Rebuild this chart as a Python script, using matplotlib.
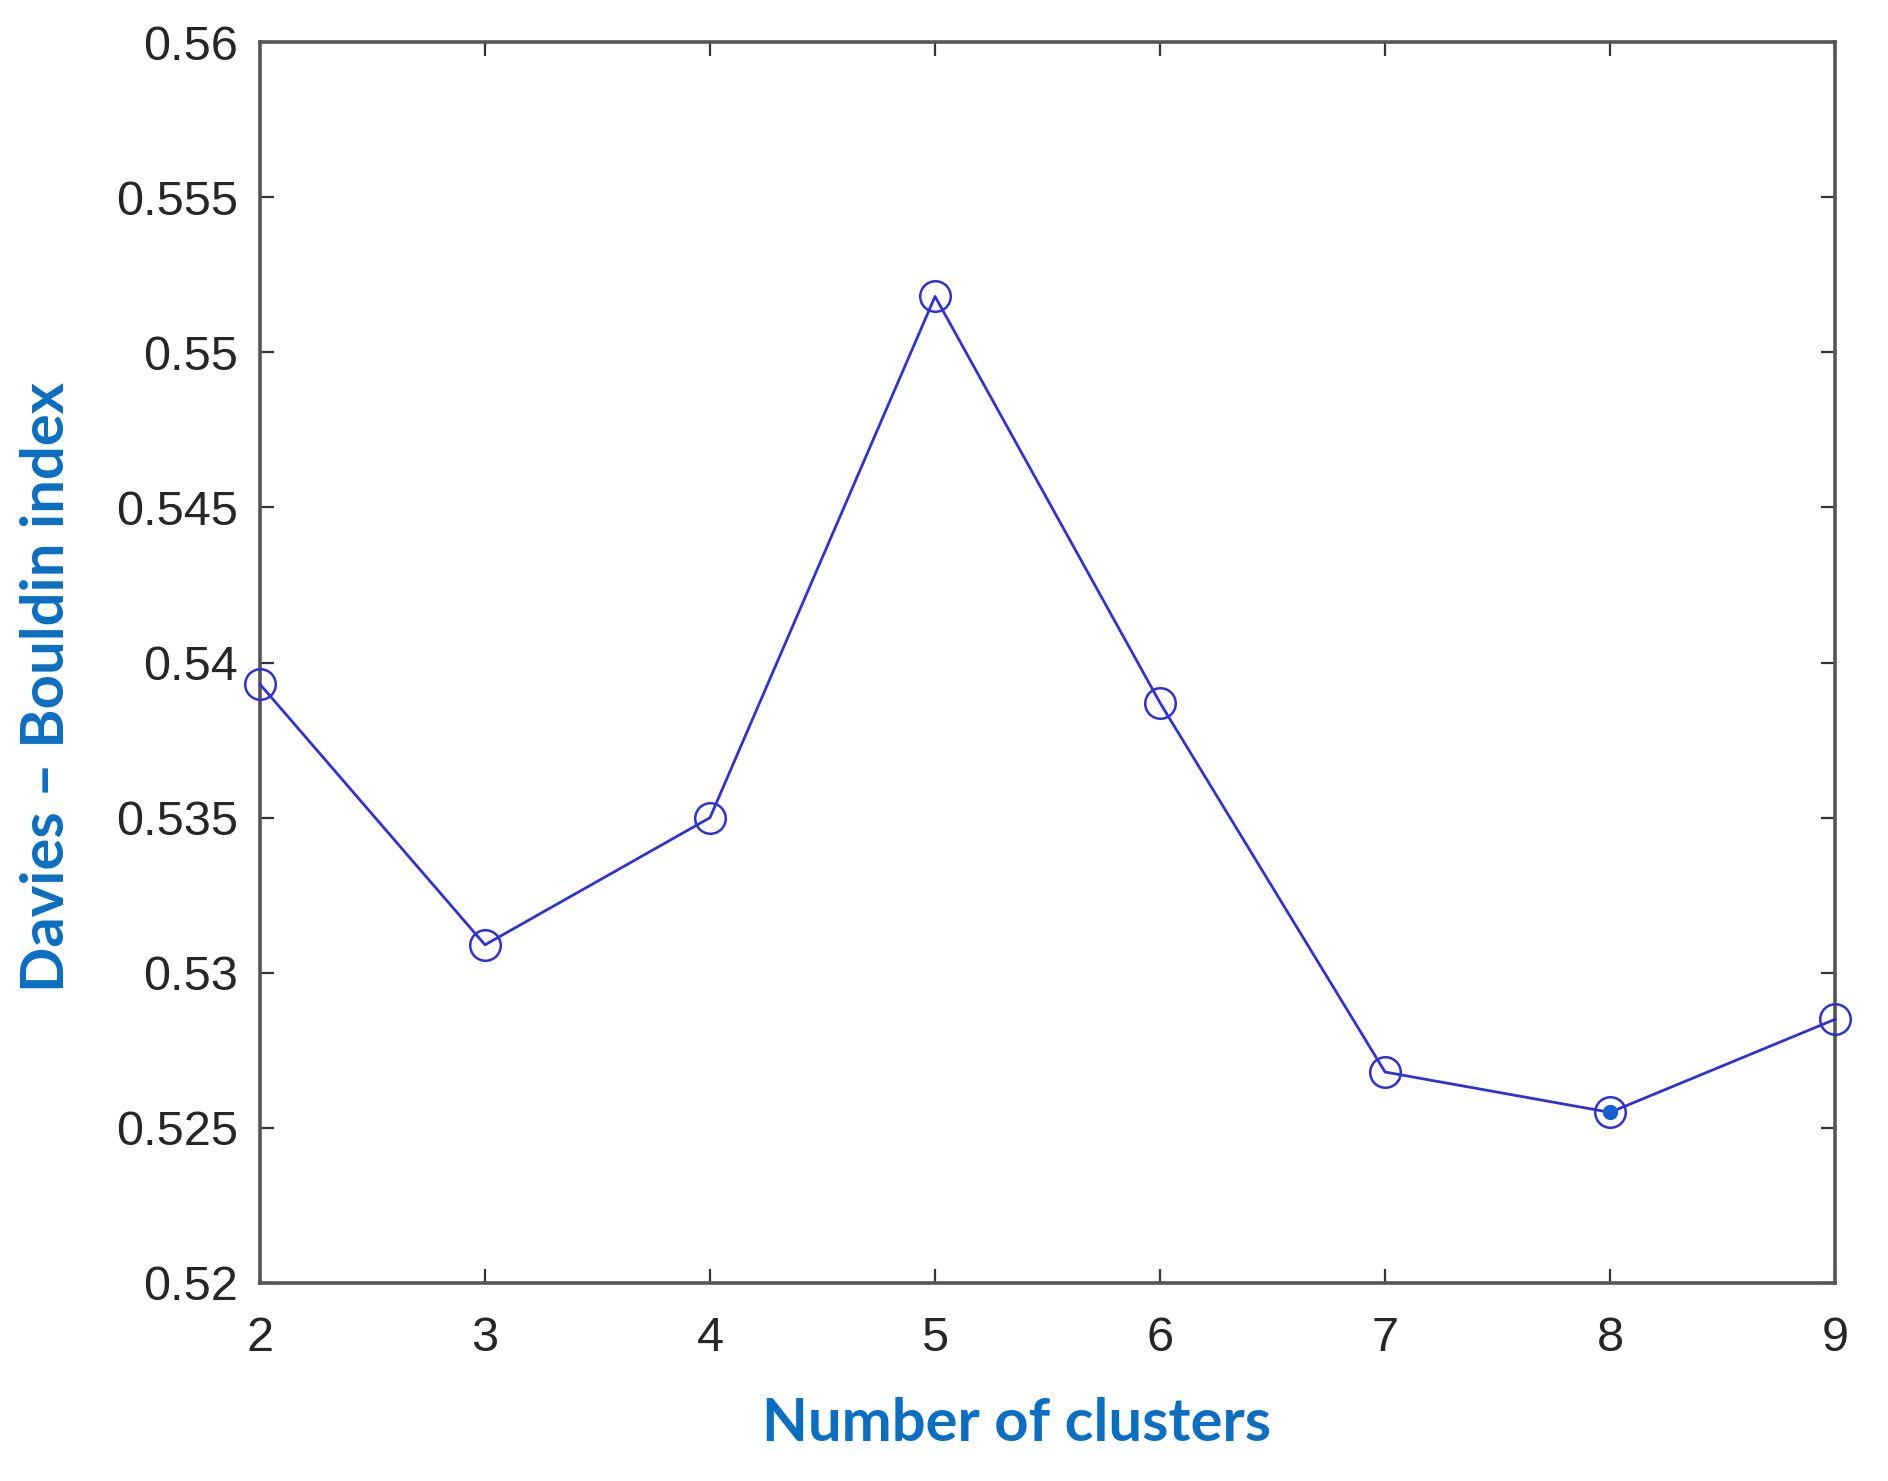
import matplotlib.pyplot as plt

clusters = [2, 3, 4, 5, 6, 7, 8, 9]
db_index = [0.5393, 0.5309, 0.5350, 0.5518, 0.5387, 0.5268, 0.5255, 0.5285]
best_k = 8
best_db = 0.5255
yticks = [0.52, 0.525, 0.53, 0.535, 0.54, 0.545, 0.55, 0.555, 0.56]
ytick_labels = ['0.52', '0.525', '0.53', '0.535', '0.54', '0.545', '0.55', '0.555', '0.56']

fig = plt.figure(figsize=(9.44, 7.405), dpi=200)
ax = fig.add_axes([0.1377, 0.1337, 0.8343, 0.8379])

ax.plot(clusters, db_index, color='#3030d8', lw=1.0, marker='o', ms=11,
        mfc='none', mec='#3030d8', mew=0.9, clip_on=False, zorder=3)
ax.plot([best_k], [best_db], 'o', ms=4.5, color='#1a5fd0', zorder=4)

ax.set_xlim(2, 9)
ax.set_ylim(0.52, 0.56)
ax.set_xticks(clusters)
ax.set_yticks(yticks)
ax.set_yticklabels(ytick_labels)

for s in ax.spines.values():
    s.set_color('#555555')
    s.set_linewidth(1.3)
ax.tick_params(direction='in', length=5, width=0.8, color='#333333',
               top=True, right=True, labelsize=17.5, labelcolor='#262626')
ax.tick_params(axis='x', pad=12)
ax.tick_params(axis='y', pad=8)
for lab in ax.get_xticklabels() + ax.get_yticklabels():
    lab.set_family('Liberation Sans')

ax.set_xlabel('Number of clusters', fontsize=21.5, fontweight='bold',
              color='#0a6fc2', family='Lato')
ax.set_ylabel('Davies \u2013 Bouldin index', fontsize=21.5, fontweight='bold',
              color='#0a6fc2', family='Lato')
ax.xaxis.set_label_coords(0.48, -0.092)
ax.yaxis.set_label_coords(-0.118, 0.48)

fig.savefig('out.png', dpi=200)
